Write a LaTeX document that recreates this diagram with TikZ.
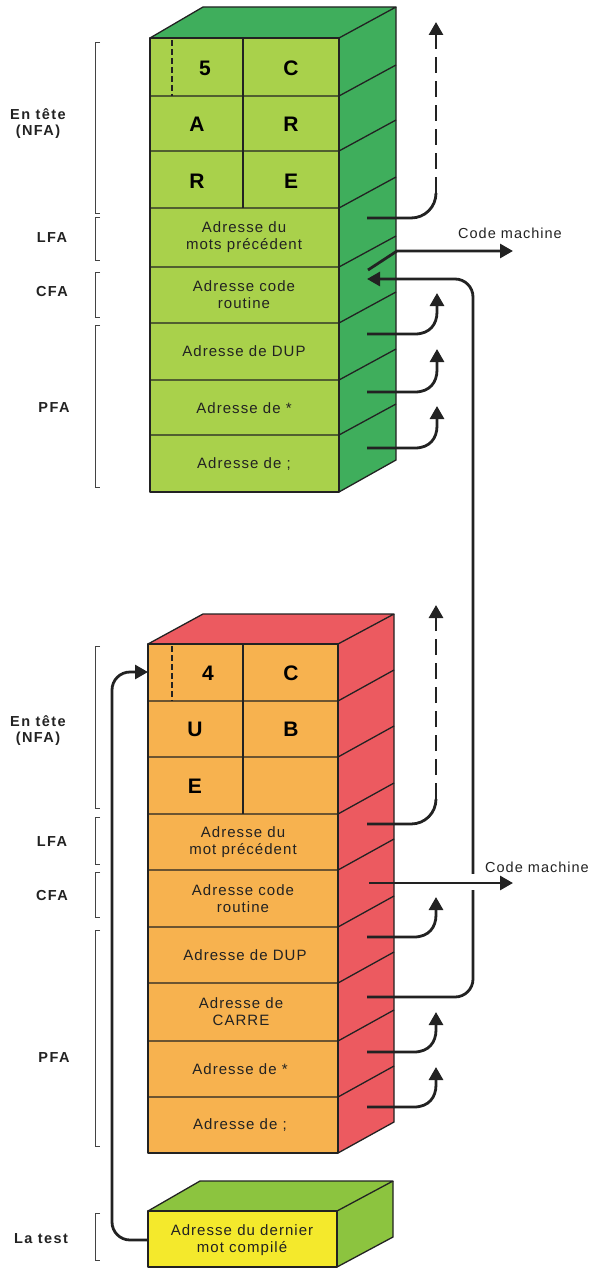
\documentclass[tikz,border=0pt]{standalone}
\usepackage{fontspec}
\setmainfont{Liberation Sans}
\newfontfamily\lblfont{Liberation Sans}[LetterSpace=10]
\newfontfamily\cellfont{Liberation Sans}[LetterSpace=7]
\usetikzlibrary{arrows.meta}
\definecolor{gFront}{HTML}{A9D14B}
\definecolor{gSide}{HTML}{3FAE5C}
\definecolor{oFront}{HTML}{F7B24F}
\definecolor{rSide}{HTML}{EC5A60}
\definecolor{yFront}{HTML}{F4E92C}
\definecolor{lSide}{HTML}{8CC43F}
\definecolor{ink}{HTML}{222222}
\tikzset{
  edge/.style={draw=ink, line width=1.3pt, line join=round},
  brk/.style={draw=ink!85, line width=1pt},
  lbl/.style={font=\lblfont\bfseries\fontsize{14.5}{16}\selectfont, text=ink, align=center, inner sep=0pt},
  cell/.style={font=\cellfont\fontsize{15}{17}\selectfont, text=ink, align=center, inner sep=0pt},
  letter/.style={font=\bfseries\fontsize{21}{22}\selectfont, text=black, inner sep=0pt},
  cmtext/.style={font=\cellfont\fontsize{14.5}{16}\selectfont, text=ink, inner sep=0pt},
  arrline/.style={draw=ink, line width=2.8pt},
  arr/.style={arrline, -{Triangle[length=13pt,width=14pt]}},
  celldash/.style={draw=ink, line width=1.2pt, dash pattern=on 6pt off 3pt},
}
\begin{document}
\begin{tikzpicture}[x=1pt,y=-1pt]
\useasboundingbox (0,0) rectangle (592,1268);

% ---------------- top block (CARRE) ----------------
\fill[gSide] (339,38) -- (396,7) -- (396,460) -- (339,492) -- cycle;
\fill[gSide] (150,38) -- (203,7) -- (396,7) -- (339,38) -- cycle;
\fill[gFront] (150,38) rectangle (339,492);
\draw[edge] (150,38) rectangle (339,492);
\draw[edge] (150,38) -- (203,7) -- (396,7) -- (339,38);
\draw[edge] (396,7) -- (396,460) -- (339,492);
\foreach \y in {96,151,208,267,323,380,435}
  \draw[edge] (150,\y) -- (339,\y) -- (396,\y-31);
\draw[edge] (243,38) -- (243,208);
\draw[celldash] (172,40) -- (172,96);

\node[letter] (t5) at (205,68) {5};
\node[letter] (tC) at (291,68) {C};
\node[letter] (tA) at (197,124) {A};
\node[letter] (tR) at (291,124) {R};
\node[letter] (tR2) at (197,181) {R};
\node[letter] (tE) at (291,181) {E};
\node[cell] (tLFA) at (244,237) {Adresse du\\mots précédent};
\node[cell] (tCFA) at (244,295) {Adresse code\\routine};
\node[cell] (tDUP) at (244,351) {Adresse de DUP};
\node[cell] (tMUL) at (244,408) {Adresse de *};
\node[cell] (tSEM) at (244,464) {Adresse de ;};

% ---------------- bottom block (CUBE) ----------------
\fill[rSide] (338,644) -- (394,614) -- (394,1122) -- (338,1153) -- cycle;
\fill[rSide] (148,644) -- (203,614) -- (394,614) -- (338,644) -- cycle;
\fill[oFront] (148,644) rectangle (338,1153);
\draw[edge] (148,644) rectangle (338,1153);
\draw[edge] (148,644) -- (203,614) -- (394,614) -- (338,644);
\draw[edge] (394,614) -- (394,1122) -- (338,1153);
\foreach \y in {701,757,814,870,927,983,1041,1097}
  \draw[edge] (148,\y) -- (338,\y) -- (394,\y-31);
\draw[edge] (243,644) -- (243,814);
\draw[celldash] (172,646) -- (172,701);

\node[letter] (b4) at (208,673) {4};
\node[letter] (bC) at (291,673) {C};
\node[letter] (bU) at (195,729) {U};
\node[letter] (bB) at (291,729) {B};
\node[letter] (bE) at (195,786) {E};
\node[cell] (bLFA) at (243,842) {Adresse du\\mot précédent};
\node[cell] (bCFA) at (243,899) {Adresse code\\routine};
\node[cell] (bDUP) at (245,955) {Adresse de DUP};
\node[cell] (bCAR) at (241,1012) {Adresse de\\CARRE};
\node[cell] (bMUL) at (240,1069) {Adresse de *};
\node[cell] (bSEM) at (240,1125) {Adresse de ;};

% ---------------- small block (LATEST) ----------------
\fill[lSide] (337,1211) -- (393,1181) -- (393,1237) -- (337,1267) -- cycle;
\fill[lSide] (148,1211) -- (200,1181) -- (393,1181) -- (337,1211) -- cycle;
\fill[yFront] (148,1211) rectangle (337,1267);
\draw[edge] (148,1211) rectangle (337,1267);
\draw[edge] (148,1211) -- (200,1181) -- (393,1181) -- (337,1211);
\draw[edge] (393,1181) -- (393,1237) -- (337,1267);
\node[cell] (sLT) at (242,1240) {Adresse du dernier\\mot compilé};

% ---------------- left labels and brackets ----------------
\node[lbl] (lNFAt) at (38,124) {En tête\\(NFA)};
\node[lbl] (lLFAt) at (52,238) {LFA};
\node[lbl] (lCFAt) at (52,292) {CFA};
\node[lbl] (lPFAt) at (54,408) {PFA};
\node[lbl] (lNFAb) at (38,731) {En tête\\(NFA)};
\node[lbl] (lLFAb) at (52,842) {LFA};
\node[lbl] (lCFAb) at (52,895) {CFA};
\node[lbl] (lPFAb) at (54,1057) {PFA};
\node[lbl] (lLT) at (41,1239) {La test};

\draw[brk] (100,43) -- (95,43) -- (95,213) -- (100,213);
\draw[brk] (100,217) -- (95,217) -- (95,260) -- (100,260);
\draw[brk] (100,272) -- (95,272) -- (95,317) -- (100,317);
\draw[brk] (100,325) -- (95,325) -- (95,487) -- (100,487);
\draw[brk] (100,646) -- (95,646) -- (95,808) -- (100,808);
\draw[brk] (100,817) -- (95,817) -- (95,864) -- (100,864);
\draw[brk] (100,872) -- (95,872) -- (95,917) -- (100,917);
\draw[brk] (100,930) -- (95,930) -- (95,1146) -- (100,1146);
\draw[brk] (100,1213) -- (95,1213) -- (95,1260) -- (100,1260);

% ---------------- connector end points ----------------
\coordinate (tLFAs) at (367,218);
\coordinate (tLFAe) at (436,22);
\coordinate (tCFAs) at (368,270);
\coordinate (tCFAk) at (397,251);
\coordinate (tCMe) at (513,251);
\coordinate (tCFAin) at (367,279);
\coordinate (tP1s) at (367,334);
\coordinate (tP1e) at (437,293);
\coordinate (tP2s) at (367,392);
\coordinate (tP2e) at (437,349);
\coordinate (tP3s) at (367,448);
\coordinate (tP3e) at (437,406);
\coordinate (bLFAs) at (367,824);
\coordinate (bLFAe) at (436,605);
\coordinate (bCFAs) at (369,883);
\coordinate (bCMe) at (513,883);
\coordinate (bP1s) at (367,937);
\coordinate (bP1e) at (436,897);
\coordinate (bCARs) at (367,997);
\coordinate (bP2s) at (367,1052);
\coordinate (bP2e) at (436,1012);
\coordinate (bP3s) at (367,1107);
\coordinate (bP3e) at (436,1067);
\coordinate (sLs) at (148,1240);
\coordinate (bIn) at (148,672);

% ---------------- connectors: top block ----------------
\draw[arrline] (tLFAs) -- ++(44,0) .. controls +(14,0) and +(0,14) .. ++(25,-25) coordinate (tLFAk);
\draw[arr, dash pattern=on 16pt off 8pt] (tLFAk) -- (tLFAe);
\draw[arr, line join=miter] (tCFAs) -- (tCFAk) -- (tCMe);
\node[cmtext] (tCM) at (510,233) {Code machine};
\foreach \s/\e in {tP1s/tP1e, tP2s/tP2e, tP3s/tP3e}
  \draw[arr] (\s) -- ++(48,0) .. controls +(15,0) and +(0,12) .. ++(22,-22) -- (\e);

% ---------------- connectors: bottom block ----------------
\draw[arrline] (bLFAs) -- ++(44,0) .. controls +(14,0) and +(0,14) .. ++(25,-25) coordinate (bLFAk);
\draw[arr, dash pattern=on 16pt off 8pt] (bLFAk) -- (bLFAe);
\draw[arr, rounded corners=18pt] (bCARs) -| (473,279) -- (tCFAin);
\fill[white] (469,874) rectangle (477,890);
\draw[arr] (bCFAs) -- (bCMe);
\node[cmtext] (bCM) at (537,867) {Code machine};
\foreach \s/\e in {bP1s/bP1e, bP2s/bP2e, bP3s/bP3e}
  \draw[arr] (\s) -- ++(47,0) .. controls +(15,0) and +(0,12) .. ++(22,-22) -- (\e);

% ---------------- latest pointer ----------------
\draw[arr, rounded corners=18pt] (sLs) -| (112,672) -- (bIn);
\end{tikzpicture}
\end{document}
